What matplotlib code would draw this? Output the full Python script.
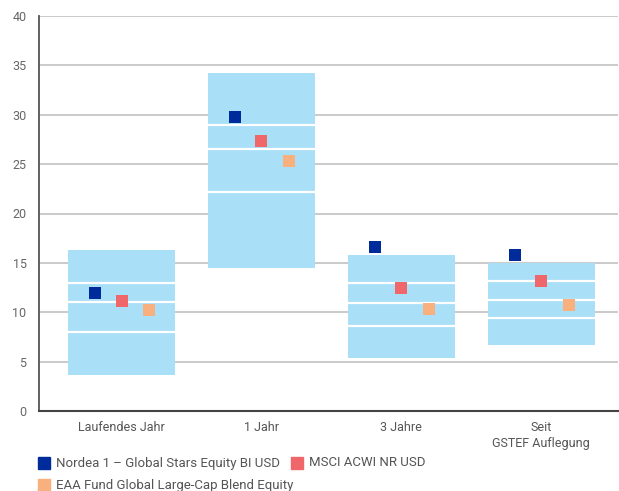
import matplotlib
matplotlib.use('Agg')
from matplotlib import pyplot as plt
from matplotlib.patches import Rectangle

# categories and values
categories = ['Laufendes Jahr', '1 Jahr', '3 Jahre', 'Seit\nGSTEF Auflegung']
box_low = [3.6, 14.5, 5.4, 6.7]
box_high = [16.3, 34.2, 15.8, 15.0]
q1 = [8.0, 22.2, 8.6, 9.4]
median = [11.0, 26.5, 10.9, 11.2]
q3 = [13.0, 29.0, 13.0, 13.2]

series_names = ['Nordea 1 \u2013 Global Stars Equity BI USD', 'MSCI ACWI NR USD',
                'EAA Fund Global Large-Cap Blend Equity']
nordea = [12.0, 29.8, 16.6, 15.8]
msci = [11.1, 27.3, 12.5, 13.2]
eaa = [10.2, 25.3, 10.3, 10.7]
colors = ['#002b9b', '#f0676b', '#f8b07f']
box_color = '#a9dff7'

plt.rcParams['font.family'] = ['Roboto', 'DejaVu Sans']

W, H = 619, 491
fig = plt.figure(figsize=(W / 100, H / 100), dpi=100)
ax = fig.add_axes([39 / W, (H - 411) / H, (618 - 39) / W, (411 - 16) / H])

x = list(range(len(categories)))
width = 0.765
heights = [h - l for l, h in zip(box_low, box_high)]
ax.bar(x, heights, bottom=box_low, width=width, color=box_color, zorder=2)
for vals in (q1, median, q3):
    ax.hlines(vals, [i - width / 2 for i in x], [i + width / 2 for i in x],
              colors='white', lw=1.6, zorder=3)

offsets = [-0.19, 0.0, 0.2]
for vals, c, off in zip((nordea, msci, eaa), colors, offsets):
    ax.plot([i + off for i in x], vals, 's', color=c, ms=8.6, mew=0, zorder=4)

ax.set_ylim(0, 40)
ax.set_yticks(range(0, 41, 5))
ax.set_xlim(-0.59, 3.55)
ax.set_xticks(x)
ax.set_xticklabels(categories, fontsize=9, color='#555555', linespacing=1.3)
ax.tick_params(axis='x', length=0, pad=7)
ax.tick_params(axis='y', length=0, pad=9, labelsize=9, labelcolor='#666666')
ax.grid(axis='y', color='#c6c6c6', lw=1.3, zorder=1)
ax.set_axisbelow(True)
for s in ('top', 'right'):
    ax.spines[s].set_visible(False)
ax.spines['left'].set_color('#555555')
ax.spines['bottom'].set_color('#444444')
ax.spines['left'].set_linewidth(1.3)
ax.spines['bottom'].set_linewidth(1.5)

# legend laid out like the original (flowing rows)
def px(xp, yp):
    return xp / W, (H - yp) / H

legend_pos = [(38, 463), (291, 463), (38, 485)]
for (lx, ly), c, name in zip(legend_pos, colors, series_names):
    fx, fy = px(lx, ly + 6)
    fig.add_artist(Rectangle((fx, fy), 12 / W, 12 / H, color=c, transform=fig.transFigure))
    tx, ty = px(lx + 18, ly)
    fig.text(tx, ty, name, fontsize=9.5, color='#555555', va='center', ha='left')

fig.savefig('out.png', dpi=100)
